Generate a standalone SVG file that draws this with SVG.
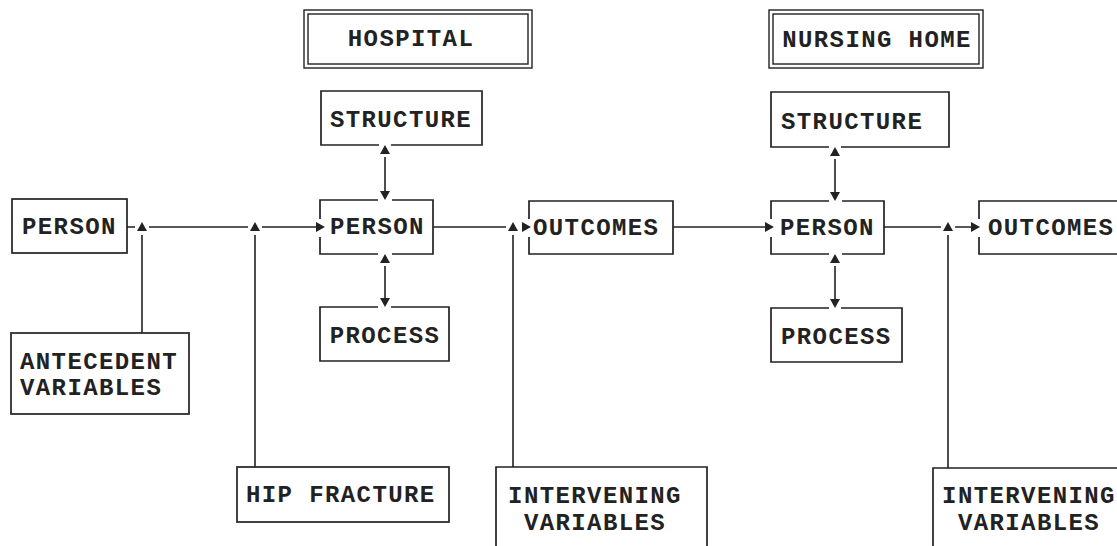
<svg xmlns="http://www.w3.org/2000/svg" width="1117" height="546" viewBox="0 0 1117 546">
<style>
.bx{fill:none;stroke:#222;stroke-width:1.7}
.db{fill:none;stroke:#222;stroke-width:1.4}
.t{font-family:"Liberation Mono","Courier New",monospace;font-weight:bold;font-size:24px;letter-spacing:1.4px;fill:#222}
.c{text-anchor:middle}
.ln{fill:none;stroke:#222;stroke-width:1.6}
.ah{fill:#222}
</style>
<rect width="1117" height="546" fill="#fff"/>
<g id="hospital">
<rect class="db" x="304" y="10" width="228" height="58"/>
<rect class="db" x="308" y="14" width="220" height="50"/>
<text class="t c" x="411" y="46">HOSPITAL</text>
</g>
<g id="nursing-home">
<rect class="db" x="769" y="10" width="214" height="58"/>
<rect class="db" x="773" y="14" width="206" height="50"/>
<text class="t c" x="877" y="47">NURSING HOME</text>
</g>
<g id="person-1">
<rect class="bx" x="12" y="199" width="115" height="54"/>
<text class="t" x="22" y="234">PERSON</text>
</g>
<g id="antecedent">
<rect class="bx" x="11" y="333" width="178" height="81"/>
<text class="t" x="20" y="369">ANTECEDENT</text>
<text class="t" x="20" y="395">VARIABLES</text>
</g>
<g id="hip-fracture">
<rect class="bx" x="237" y="467" width="212" height="55"/>
<text class="t" x="246" y="502">HIP FRACTURE</text>
</g>
<g id="structure-1">
<path class="bx" d="M379,145 H321 V91 H482 V145 H391"/>
<text class="t c" x="401" y="127">STRUCTURE</text>
</g>
<g id="person-2">
<path class="bx" d="M320,219 V200 H378 M392,200 H433 V254 H392 M378,254 H320 V237"/>
<text class="t" x="330" y="234">PERSON</text>
</g>
<g id="process-1">
<path class="bx" d="M378,307 H320 V361 H449 V307 H391"/>
<text class="t c" x="385" y="343">PROCESS</text>
</g>
<g id="outcomes-1">
<path class="bx" d="M529,219 V201 H673 V254 H529 V237"/>
<text class="t" x="533" y="235">OUTCOMES</text>
</g>
<g id="intervening-1">
<path class="bx" d="M496,560 V467 H707 V560"/>
<text class="t c" x="595" y="503">INTERVENING</text>
<text class="t c" x="595" y="530">VARIABLES</text>
</g>
<g id="structure-2">
<path class="bx" d="M829,147 H771 V92 H949 V147 H841"/>
<text class="t" x="781" y="129">STRUCTURE</text>
</g>
<g id="person-3">
<path class="bx" d="M771,219 V201 H829 M842,201 H884 V254 H842 M829,254 H771 V237"/>
<text class="t" x="780" y="235">PERSON</text>
</g>
<g id="process-2">
<path class="bx" d="M829,308 H771 V362 H902 V308 H841"/>
<text class="t" x="781" y="344">PROCESS</text>
</g>
<g id="outcomes-2">
<path class="bx" d="M979,219 V201 H1125 M1125,254 H979 V237"/>
<text class="t" x="988" y="235">OUTCOMES</text>
</g>
<g id="intervening-2">
<path class="bx" d="M933,560 V468 H1125"/>
<text class="t c" x="1029" y="503">INTERVENING</text>
<text class="t c" x="1029" y="530">VARIABLES</text>
</g>
<g id="connectors">
<path class="ln" d="M127,227 H135 M149,227 H248 M262,227 H316 M142,235 V333 M255,235 V467"/>
<polygon class="ah" points="142,222 137,231 147,231"/>
<polygon class="ah" points="255,222 250,231 260,231"/>
<polygon class="ah" points="325,227 316,222 316,232"/>
<path class="ln" d="M433,227 H506 M513,235 V467"/>
<polygon class="ah" points="513,222 508,231 518,231"/>
<polygon class="ah" points="531,227 522,222 522,232"/>
<path class="ln" d="M673,227 H765"/>
<polygon class="ah" points="774,227 765,222 765,232"/>
<path class="ln" d="M884,227 H941 M955,227 H971 M948,235 V468"/>
<polygon class="ah" points="948,222 943,231 953,231"/>
<polygon class="ah" points="980,227 971,222 971,232"/>
<path class="ln" d="M385,157 V191 M385,266 V298"/>
<polygon class="ah" points="385,145 380,154 390,154"/>
<polygon class="ah" points="385,200 380,191 390,191"/>
<polygon class="ah" points="385,254 380,263 390,263"/>
<polygon class="ah" points="385,307 380,298 390,298"/>
<path class="ln" d="M835,159 V192 M835,266 V299"/>
<polygon class="ah" points="835,147 830,156 840,156"/>
<polygon class="ah" points="835,201 830,192 840,192"/>
<polygon class="ah" points="835,254 830,263 840,263"/>
<polygon class="ah" points="835,308 830,299 840,299"/>
</g>
</svg>
